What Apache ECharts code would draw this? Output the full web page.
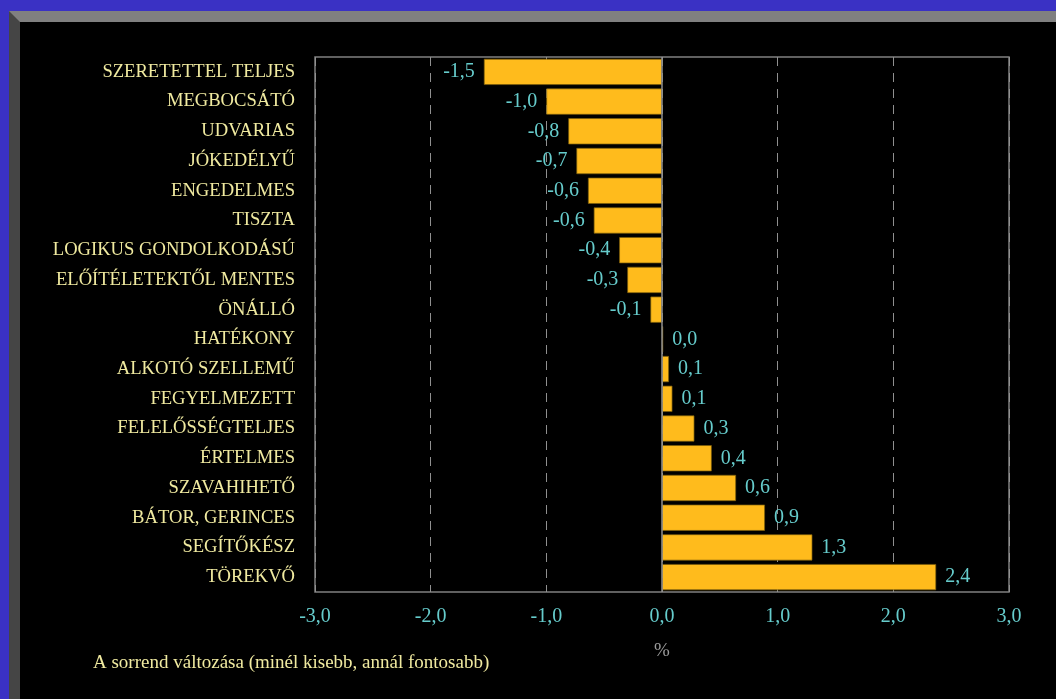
<!DOCTYPE html>
<html>
<head>
<meta charset="utf-8">
<script src="https://cdn.jsdelivr.net/npm/echarts@6/dist/echarts.min.js"></script>
<style>
  html, body { margin: 0; padding: 0; width: 1056px; height: 699px; background: #3a31c4; overflow: hidden; }
  #frame { position: absolute; left: 9px; top: 11px; right: 0; bottom: 0; background: #000;
           border-top: 11px solid #808080; border-left: 11px solid #454545; }
  #chart { position: absolute; left: 0; top: 0; width: 1056px; height: 699px; }
</style>
</head>
<body>
<div id="frame"></div>
<div id="chart"></div>
<script>
// kategóriák, felülről lefelé
var categories = ['SZERETETTEL TELJES', 'MEGBOCSÁTÓ', 'UDVARIAS', 'JÓKEDÉLYŰ', 'ENGEDELMES', 'TISZTA',
    'LOGIKUS GONDOLKODÁSÚ', 'ELŐÍTÉLETEKTŐL MENTES', 'ÖNÁLLÓ', 'HATÉKONY', 'ALKOTÓ SZELLEMŰ',
    'FEGYELMEZETT', 'FELELŐSSÉGTELJES', 'ÉRTELMES', 'SZAVAHIHETŐ', 'BÁTOR, GERINCES', 'SEGÍTŐKÉSZ', 'TÖREKVŐ'];
var values = [-1.54, -1.0, -0.81, -0.74, -0.64, -0.59, -0.37, -0.3, -0.1, 0.01, 0.06, 0.09, 0.28, 0.43, 0.64, 0.89, 1.3, 2.37];
var xTicks = [-3, -2, -1, 0, 1, 2, 3];

var font = '"Liberation Serif", "Times New Roman", serif';
function fmt(v) { return v.toFixed(1).replace('.', ','); }

var barData = [];
values.forEach(function (v) {
    barData.push({
        value: v,
        label: { position: v < 0 ? 'left' : 'right' }
    });
});

var myChart = echarts.init(document.getElementById('chart'));
var option = {
    animation: false,
    backgroundColor: 'transparent',
    grid: {
        left: 315, right: 47, top: 57, bottom: 107,
        show: true, borderColor: '#808080', borderWidth: 1.5, backgroundColor: 'transparent'
    },
    xAxis: {
        type: 'value',
        min: xTicks[0],
        max: xTicks[xTicks.length - 1],
        interval: 1,
        name: '%',
        nameLocation: 'middle',
        nameGap: 50,
        nameTextStyle: { color: '#9a9a9a', fontSize: 19, fontFamily: font },
        axisLine: { show: false },
        axisTick: { show: false },
        axisLabel: { color: '#66cccc', fontSize: 20, fontFamily: font, margin: 15, formatter: fmt },
        splitLine: { lineStyle: { color: '#909090', type: [9, 7], width: 1 } }
    },
    yAxis: {
        type: 'category',
        inverse: true,
        data: categories,
        axisLine: { show: false },
        axisTick: { show: false },
        splitLine: { show: false },
        axisLabel: { color: '#f0eaa0', fontSize: 18.6, fontFamily: font, margin: 20 }
    },
    series: [{
        type: 'bar',
        data: barData,
        barCategoryGap: '12%',
        itemStyle: { color: '#ffbb1c', borderColor: '#7a5c0c', borderWidth: 0.7 },
        label: {
            show: true,
            distance: 9,
            color: '#66cccc',
            fontSize: 20,
            fontFamily: font,
            formatter: function (p) { return fmt(p.value); }
        },
        markLine: {
            silent: true,
            symbol: 'none',
            label: { show: false },
            lineStyle: { color: '#909090', type: 'solid', width: 1.5 },
            data: [{ xAxis: 0 }]
        }
    }],
    graphic: [{
        type: 'text',
        left: 93,
        top: 654,
        style: {
            text: 'A sorrend változása (minél kisebb, annál fontosabb)',
            fill: '#f0eaa0',
            font: '19px ' + font
        }
    }]
};
myChart.setOption(option);
</script>
</body>
</html>
